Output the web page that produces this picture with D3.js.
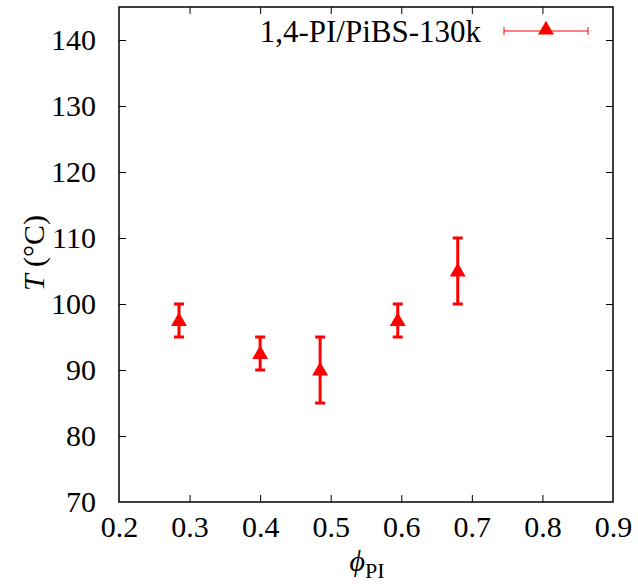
<!DOCTYPE html>
<html><head><meta charset="utf-8">
<script src="https://cdn.jsdelivr.net/npm/d3@7"></script>
<style>body{margin:0;background:#fff}text{font-family:"Liberation Serif","Times New Roman",serif}</style>
</head><body>
<svg id="c" width="638" height="585"></svg>
<script>
const phi = [0.285, 0.40, 0.485, 0.595, 0.68];
const temp = [97.5, 92.5, 90, 97.5, 105];
const errLow = [95, 90, 85, 95, 100];
const errHigh = [100, 95, 95, 100, 110];
const xTicks = [0.2, 0.3, 0.4, 0.5, 0.6, 0.7, 0.8, 0.9];
const yTicks = [70, 80, 90, 100, 110, 120, 130, 140];
const seriesName = "1,4-PI/PiBS-130k";
const red = "#ff0000";
const FF = '"Liberation Serif","Times New Roman",serif';

const svg = d3.select("#c");
const L = 119, R = 613, T = 7, B = 502;
const x = d3.scaleLinear().domain([0.2, 0.9]).range([L, R]);
const y = d3.scaleLinear().domain([70, 145]).range([B, T]);
const FS = 30;

const fmt = d3.format(".1f");
const tk = 7;
const gx = svg.append("g").attr("transform", `translate(0,${B})`)
  .call(d3.axisBottom(x).tickValues(xTicks).tickFormat(fmt).tickSizeInner(-tk).tickSizeOuter(0).tickPadding(14));
const gxt = svg.append("g").attr("transform", `translate(0,${T})`)
  .call(d3.axisTop(x).tickValues(xTicks).tickFormat("").tickSizeInner(-tk).tickSizeOuter(0));
const gy = svg.append("g").attr("transform", `translate(${L},0)`)
  .call(d3.axisLeft(y).tickValues(yTicks).tickFormat(d3.format("d")).tickSizeInner(-tk).tickSizeOuter(0).tickPadding(23));
const gyr = svg.append("g").attr("transform", `translate(${R},0)`)
  .call(d3.axisRight(y).tickValues(yTicks).tickFormat("").tickSizeInner(-tk).tickSizeOuter(0));
[gx, gxt, gy, gyr].forEach(g => {
  g.attr("font-family", FF);
  g.select(".domain").remove();
  g.selectAll(".tick line").attr("stroke", "#000").attr("stroke-width", 1);
  g.selectAll("text").attr("font-size", FS).attr("fill", "#000").style("font-family", FF);
});
gx.selectAll(".tick line").filter(d => d === 0.2 || d === 0.9).remove();
gxt.selectAll(".tick line").filter(d => d === 0.2 || d === 0.9).remove();
gy.selectAll(".tick line").filter(d => d === 70).remove();
gyr.selectAll(".tick line").filter(d => d === 70).remove();

svg.append("rect").attr("x", L).attr("y", T).attr("width", R - L).attr("height", B - T)
  .attr("fill", "none").attr("stroke", "#000").attr("stroke-width", 1.5);

const yl = svg.append("text").attr("transform", `translate(44,253) rotate(-90)`)
  .attr("text-anchor", "middle").attr("font-size", FS).style("font-family", FF);
yl.append("tspan").attr("font-style", "italic").text("T");
yl.append("tspan").text(" (°C)");

const xl = svg.append("text").attr("x", 367).attr("y", 571).attr("text-anchor", "middle").attr("font-size", FS).style("font-family", FF);
xl.append("tspan").attr("font-style", "italic").text("ϕ");
xl.append("tspan").attr("font-size", 22).attr("dy", 7).text("PI");

const data = phi.map((p, i) => ({p, t: temp[i], lo: errLow[i], hi: errHigh[i]}));
const g = svg.append("g");
const cap = 5;
g.selectAll("line.eb").data(data).join("line").attr("class", "eb")
  .attr("x1", d => x(d.p)).attr("x2", d => x(d.p)).attr("y1", d => y(d.lo)).attr("y2", d => y(d.hi))
  .attr("stroke", red).attr("stroke-width", 3);
g.selectAll("line.ct").data(data).join("line").attr("class", "ct")
  .attr("x1", d => x(d.p) - cap).attr("x2", d => x(d.p) + cap).attr("y1", d => y(d.hi)).attr("y2", d => y(d.hi))
  .attr("stroke", red).attr("stroke-width", 3);
g.selectAll("line.cb").data(data).join("line").attr("class", "cb")
  .attr("x1", d => x(d.p) - cap).attr("x2", d => x(d.p) + cap).attr("y1", d => y(d.lo)).attr("y2", d => y(d.lo))
  .attr("stroke", red).attr("stroke-width", 3);
const tri = d3.symbol().type(d3.symbolTriangle).size(110);
g.selectAll("path.m").data(data).join("path").attr("class", "m")
  .attr("d", tri).attr("transform", d => `translate(${x(d.p)},${y(d.t) + 1})`).attr("fill", red);

const ly = 31;
svg.append("text").attr("x", 481).attr("y", ly + 11).attr("text-anchor", "end").attr("font-size", 31).style("font-family", FF).text(seriesName);
const lx1 = 504, lx2 = 588;
svg.append("line").attr("x1", lx1).attr("x2", lx2).attr("y1", ly).attr("y2", ly).attr("stroke", red).attr("stroke-width", 1);
svg.append("line").attr("x1", lx1).attr("x2", lx1).attr("y1", ly - 4).attr("y2", ly + 4).attr("stroke", red).attr("stroke-width", 1);
svg.append("line").attr("x1", lx2).attr("x2", lx2).attr("y1", ly - 4).attr("y2", ly + 4).attr("stroke", red).attr("stroke-width", 1);
svg.append("path").attr("d", tri).attr("transform", `translate(546,${ly - 1})`).attr("fill", red);
</script>
</body></html>
